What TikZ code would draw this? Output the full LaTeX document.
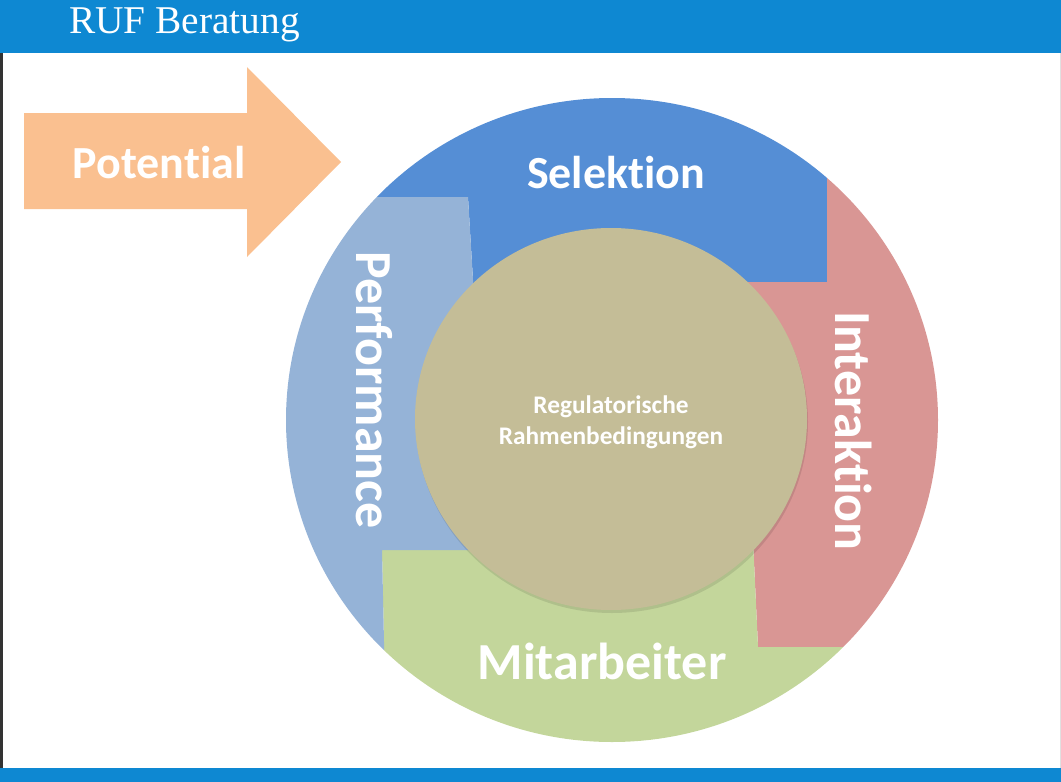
\documentclass[tikz,border=0pt]{standalone}
\usepackage{fontspec}
\setmainfont{Carlito}[Ligatures=NoCommon]
\newfontfamily\titlefont{Liberation Serif}
\usepackage{tikz}
\usetikzlibrary{positioning}
\definecolor{BarBlue}{RGB}{14,136,210}
\definecolor{SelBlue}{RGB}{85,142,213}
\definecolor{PerfBlue}{RGB}{149,179,215}
\definecolor{InterRed}{RGB}{217,150,148}
\definecolor{MitGreen}{RGB}{195,214,155}
\definecolor{CoreTan}{RGB}{196,189,151}
\definecolor{ArrowOrange}{RGB}{250,192,144}
\tikzset{
	seglabel/.style={text=white, inner sep=0pt, font=\bfseries\fontsize{39}{47}\selectfont},
	corelabel/.style={text=white, inner sep=0pt, align=center, font=\bfseries\fontsize{19}{23.25}\selectfont},
	titlelabel/.style={text=white, inner sep=0pt, font=\titlefont\fontsize{29.5}{35}\selectfont},
}

\begin{document}
\begin{tikzpicture}[x=0.75pt, y=-0.75pt, line join=round]
		\useasboundingbox (0,0) rectangle (1061,782);
		
		% Header and footer bars
		\fill[BarBlue] (0,0) rectangle (1061,53);
		\fill[BarBlue] (0,768) rectangle (1061,782);
		\fill[black!80] (0,53) rectangle (3,768);
		\draw[black!12] (1060,53) -- (1060,768);
		\node[titlelabel, anchor=base west] (title) at (69,33) {RUF Beratung};
		
		% Potential arrow
		\fill[ArrowOrange] (24,113) -- (247,113) -- (247,67) -- (341,162)
			-- (247,257) -- (247,209) -- (24,209) -- cycle;
		\node[seglabel, font=\bfseries\fontsize{34.5}{40}\selectfont, anchor=base] (potential) at (159,178) {Potential};
		
		% Ring segments (clipped to the outer circle)
		\begin{scope}
			\clip (612,420) ellipse [x radius=326, y radius=322];
			\fill[SelBlue] (612,420) -- (476,330) -- (468,197) -- (250,197) -- (250,60)
				-- (827,60) -- (827,282) -- (720,282) -- cycle;
			\fill[InterRed] (612,420) -- (720,282) -- (827,282) -- (827,60) -- (1000,60)
				-- (1000,647) -- (758,647) -- (753,540) -- cycle;
			\fill[MitGreen] (612,420) -- (753,540) -- (758,647) -- (1000,647) -- (1000,780)
				-- (387,780) -- (382,550) -- (470,550) -- cycle;
			\fill[PerfBlue] (612,420) -- (470,550) -- (382,550) -- (387,780) -- (200,780)
				-- (200,197) -- (468,197) -- (476,330) -- cycle;
		\end{scope}
		
		% Inner circle with a soft shadow
		\fill[black, opacity=0.10] (612,422) ellipse [x radius=196, y radius=191];
		\fill[CoreTan] (611,419) ellipse [x radius=196, y radius=191];
		\node[corelabel] (core) at (611,422) {Regulatorische\\Rahmenbedingungen};
		
		% Segment labels
		\node[seglabel, font=\bfseries\fontsize{34.5}{40}\selectfont, anchor=base] (selektion) at (616,188) {Selektion};
		\node[seglabel, rotate=-90] (interaktion) at (854,431) {Interaktion};
		\node[seglabel, anchor=base] (mitarbeiter) at (602,679) {Mitarbeiter};
		\node[seglabel, rotate=-90] (performance) at (374,390) {Performance};
	\end{tikzpicture}
\end{document}
